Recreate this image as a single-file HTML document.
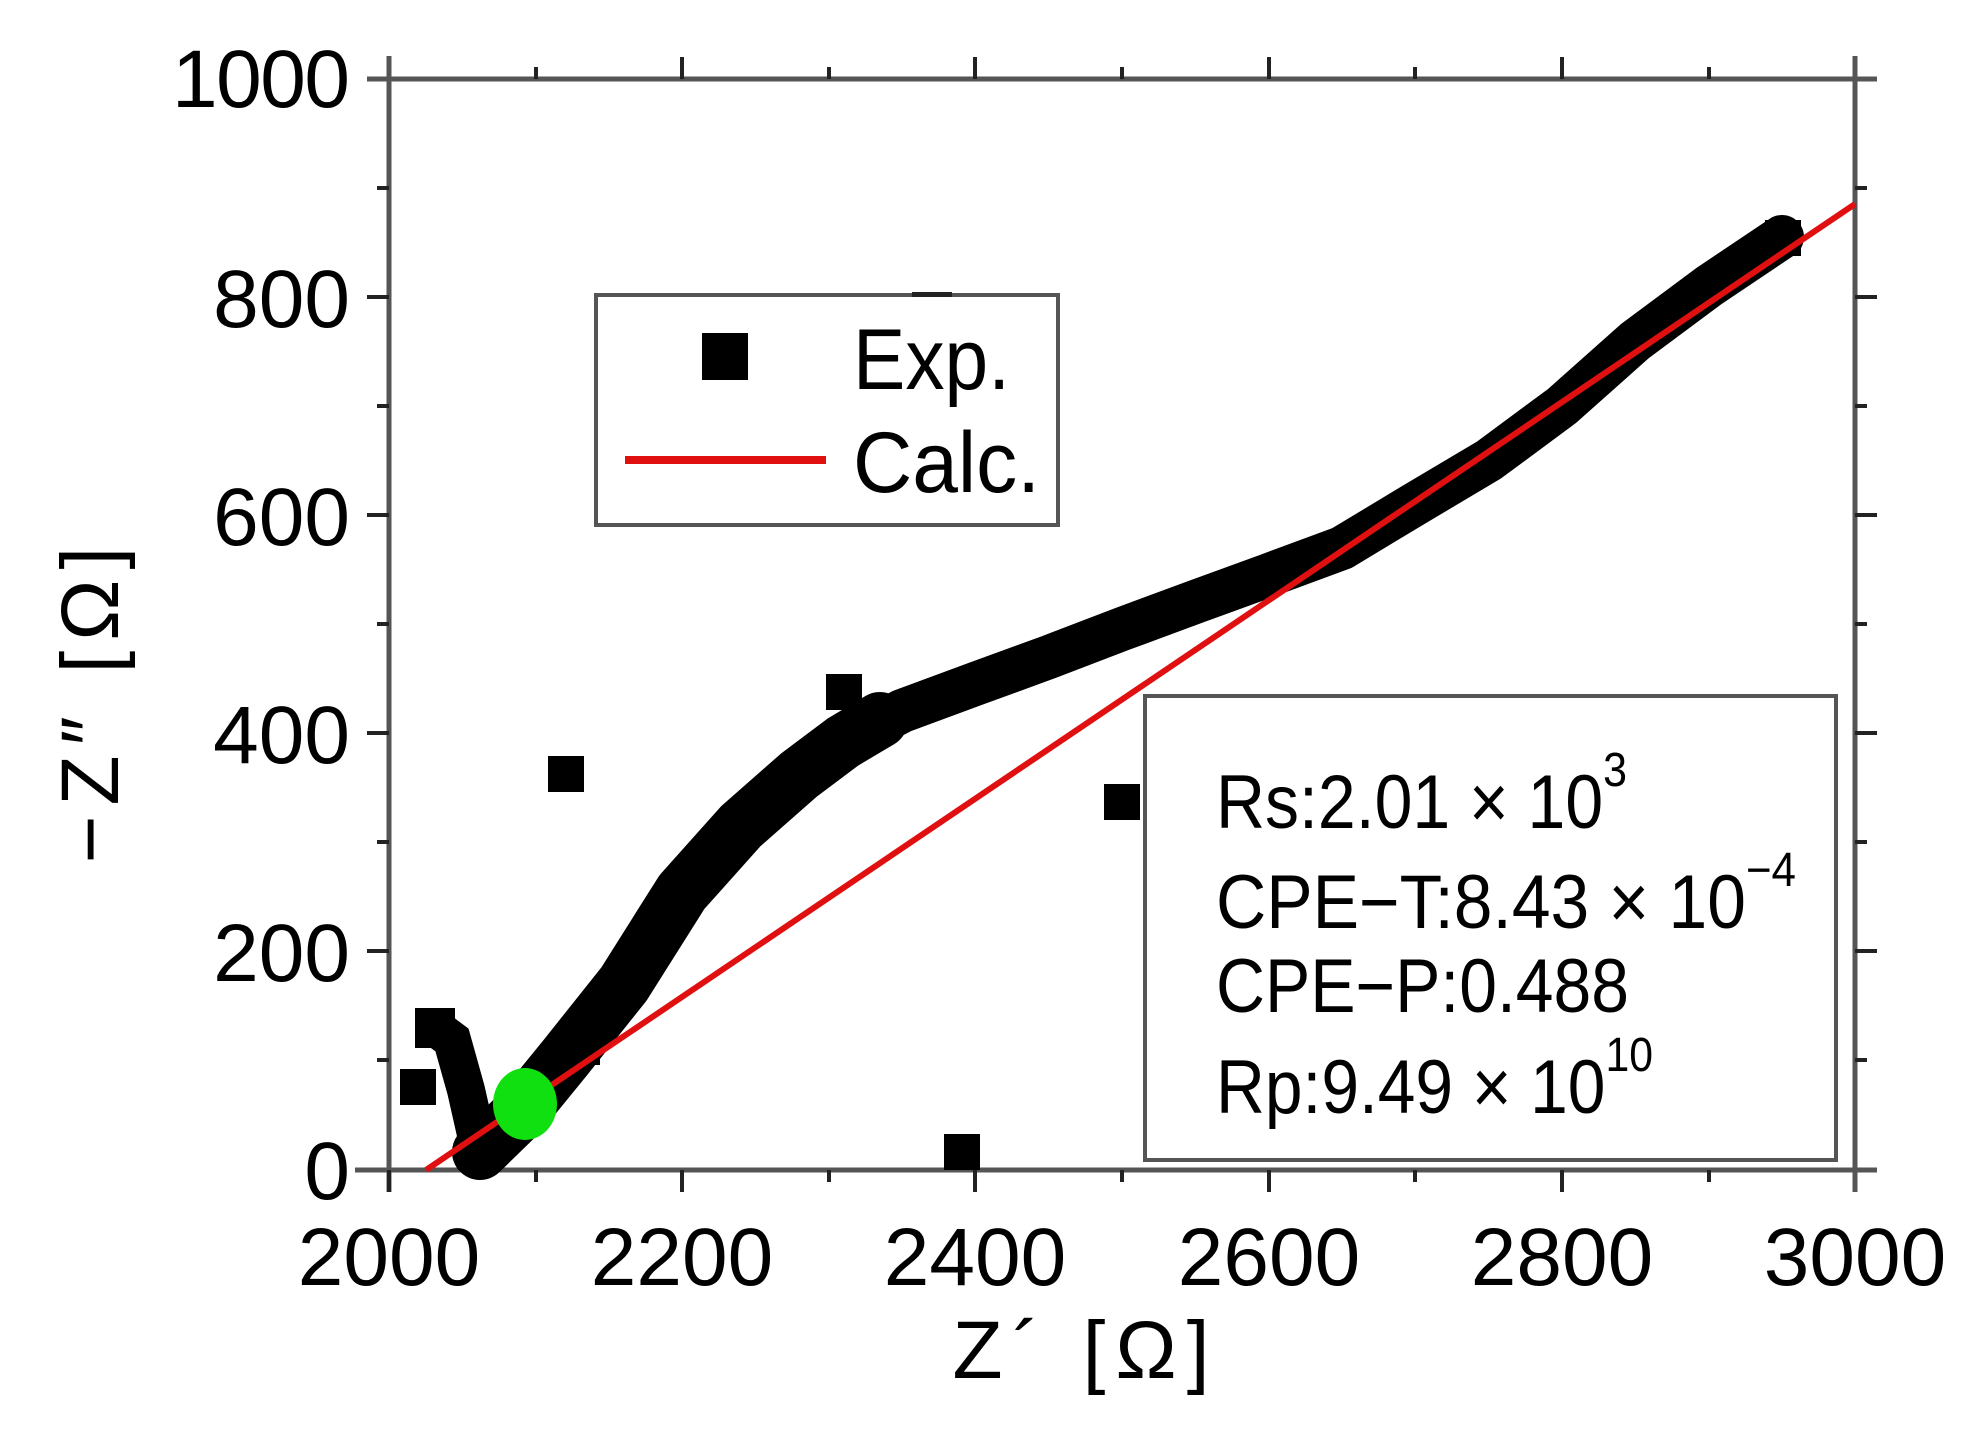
<!DOCTYPE html>
<html><head><meta charset="utf-8"><style>html,body{margin:0;padding:0;background:#fff}svg{display:block}</style></head>
<body>
<svg width="1970" height="1436" viewBox="0 0 1970 1436" xmlns="http://www.w3.org/2000/svg" font-family="Liberation Sans, sans-serif">
<rect width="1970" height="1436" fill="#fff"/>
<g stroke="#555" stroke-width="5" fill="none">
<line x1="389" y1="56" x2="389" y2="1192"/>
<line x1="355" y1="1170" x2="1877" y2="1170"/>
<line x1="367" y1="79" x2="1877" y2="79"/>
<line x1="1855" y1="56" x2="1855" y2="1192"/>
</g>
<g stroke="#222" stroke-width="4">
<line x1="389" y1="1170" x2="389" y2="1192"/><line x1="536" y1="1170" x2="536" y2="1182"/>
<line x1="682" y1="1170" x2="682" y2="1192"/><line x1="829" y1="1170" x2="829" y2="1182"/>
<line x1="975" y1="1170" x2="975" y2="1192"/><line x1="1122" y1="1170" x2="1122" y2="1182"/>
<line x1="1269" y1="1170" x2="1269" y2="1192"/><line x1="1415" y1="1170" x2="1415" y2="1182"/>
<line x1="1562" y1="1170" x2="1562" y2="1192"/><line x1="1709" y1="1170" x2="1709" y2="1182"/>
<line x1="536" y1="79" x2="536" y2="67"/><line x1="682" y1="79" x2="682" y2="57"/>
<line x1="829" y1="79" x2="829" y2="67"/><line x1="975" y1="79" x2="975" y2="57"/>
<line x1="1122" y1="79" x2="1122" y2="67"/><line x1="1269" y1="79" x2="1269" y2="57"/>
<line x1="1415" y1="79" x2="1415" y2="67"/><line x1="1562" y1="79" x2="1562" y2="57"/>
<line x1="1709" y1="79" x2="1709" y2="67"/>
<line x1="367" y1="297" x2="389" y2="297"/><line x1="377" y1="188" x2="389" y2="188"/>
<line x1="367" y1="515" x2="389" y2="515"/><line x1="377" y1="406" x2="389" y2="406"/>
<line x1="367" y1="733" x2="389" y2="733"/><line x1="377" y1="624" x2="389" y2="624"/>
<line x1="367" y1="951" x2="389" y2="951"/><line x1="377" y1="842" x2="389" y2="842"/>
<line x1="377" y1="1060" x2="389" y2="1060"/>
<line x1="1855" y1="297" x2="1877" y2="297"/><line x1="1855" y1="188" x2="1867" y2="188"/>
<line x1="1855" y1="515" x2="1877" y2="515"/><line x1="1855" y1="406" x2="1867" y2="406"/>
<line x1="1855" y1="733" x2="1877" y2="733"/><line x1="1855" y1="624" x2="1867" y2="624"/>
<line x1="1855" y1="951" x2="1877" y2="951"/><line x1="1855" y1="842" x2="1867" y2="842"/>
<line x1="1855" y1="1060" x2="1867" y2="1060"/>
</g>
<g font-size="82" fill="#000" text-anchor="end">
<text x="350" y="107" textLength="178">1000</text>
<text x="350" y="327">800</text>
<text x="350" y="545">600</text>
<text x="350" y="763">400</text>
<text x="350" y="981">200</text>
<text x="350" y="1199">0</text>
</g>
<g font-size="82" fill="#000" text-anchor="middle">
<text x="389" y="1285">2000</text>
<text x="682" y="1285">2200</text>
<text x="975" y="1285">2400</text>
<text x="1269" y="1285">2600</text>
<text x="1562" y="1285">2800</text>
<text x="1855" y="1285">3000</text>
</g>
<text x="1086" y="1378" font-size="82" text-anchor="middle" letter-spacing="10">Z´ [Ω]</text>
<text transform="translate(118,700) rotate(-90)" font-size="82" text-anchor="middle" letter-spacing="10">−Z″ [Ω]</text>
<g fill="#000">
<polyline fill="none" stroke="#000" stroke-width="56" stroke-linejoin="round" stroke-linecap="round" points="480,1152 521,1112 565,1058 624,984 682,892 741,826 799,775 843,742 880,720"/>
<polyline fill="none" stroke="#000" stroke-width="44" stroke-linejoin="round" stroke-linecap="round" points="843,742 902,711 975,684 1049,657 1122,629 1195,602 1269,575 1342,548 1415,504 1489,460 1562,406 1635,341 1709,286 1782,237"/>
<polyline fill="none" stroke="#000" stroke-width="38" points="432,1025 452,1040 466,1090 480,1152"/>
<rect x="415" y="1008" width="40" height="40"/>
<rect x="400" y="1069" width="36" height="36"/>
<rect x="548" y="756" width="36" height="36"/>
<rect x="826" y="674" width="36" height="36"/>
<rect x="944" y="1134" width="36" height="36"/>
<rect x="1104" y="784" width="36" height="36"/>
<rect x="570" y="1035" width="30" height="30"/>
<rect x="1765" y="220" width="36" height="36"/>
</g>
<line x1="426" y1="1170" x2="1855" y2="204" stroke="#e01010" stroke-width="6"/>
<ellipse cx="525" cy="1104" rx="32" ry="36" fill="#10e010"/>
<rect x="596" y="295" width="462" height="230" fill="#fff" stroke="#555" stroke-width="4"/>
<rect x="912" y="292" width="40" height="5" fill="#222"/>
<rect x="702" y="333" width="46" height="47" fill="#000"/>
<line x1="625" y1="460" x2="826" y2="460" stroke="#e01010" stroke-width="8"/>
<text x="853" y="389" font-size="86" textLength="157" lengthAdjust="spacingAndGlyphs">Exp.</text>
<text x="853" y="492" font-size="86" textLength="187" lengthAdjust="spacingAndGlyphs">Calc.</text>
<rect x="1145" y="696" width="691" height="464" fill="#fff" stroke="#555" stroke-width="4"/>
<g font-size="76" fill="#000">
<text x="1216" y="828" textLength="411" lengthAdjust="spacingAndGlyphs">Rs:2.01 × 10<tspan font-size="48" dy="-42">3</tspan></text>
<text x="1216" y="928" textLength="580" lengthAdjust="spacingAndGlyphs">CPE−T:8.43 × 10<tspan font-size="48" dy="-42">−4</tspan></text>
<text x="1216" y="1012" textLength="413" lengthAdjust="spacingAndGlyphs">CPE−P:0.488</text>
<text x="1216" y="1113" textLength="437" lengthAdjust="spacingAndGlyphs">Rp:9.49 × 10<tspan font-size="48" dy="-42">10</tspan></text>
</g>
</svg>
</body></html>
